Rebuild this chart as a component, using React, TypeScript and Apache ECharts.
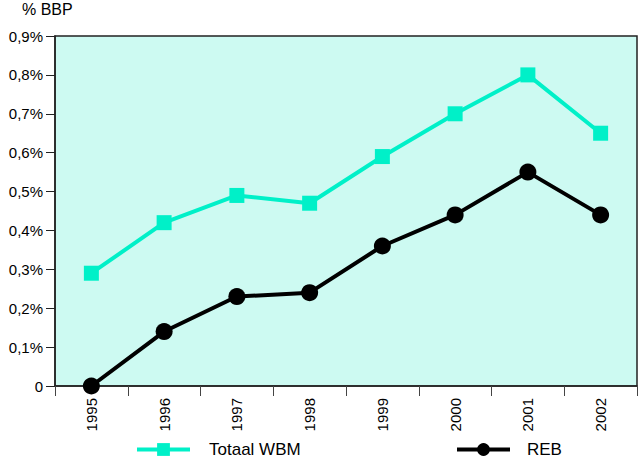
import React, { useEffect, useRef } from "react";
import * as echarts from "echarts";

const years = ["1995", "1996", "1997", "1998", "1999", "2000", "2001", "2002"];
const totaalWBM = [0.29, 0.42, 0.49, 0.47, 0.59, 0.7, 0.8, 0.65];
const reb = [0.0, 0.14, 0.23, 0.24, 0.36, 0.44, 0.55, 0.44];
const yTicks = ["0", "0,1%", "0,2%", "0,3%", "0,4%", "0,5%", "0,6%", "0,7%", "0,8%", "0,9%"];

const TEAL = "#00f0c8";
const FONT = "'Liberation Sans', Arial, sans-serif";

export default function App() {
  const ref = useRef<HTMLDivElement>(null);
  useEffect(() => {
    if (!ref.current) return;
    const chart = echarts.init(ref.current, undefined, { renderer: "svg" });
    chart.setOption({
      animation: false,
      textStyle: { fontFamily: FONT },
      grid: {
        left: 55,
        right: 2,
        top: 36,
        bottom: 73,
        show: true,
        backgroundColor: "#cdfaf2",
        borderColor: "#222",
        borderWidth: 1.5,
      },
      graphic: [
        {
          type: "text",
          left: 22,
          top: 1,
          style: { text: "% BBP", font: `16px ${FONT}`, fill: "#000" },
        },
      ],
      legend: [
        {
          data: ["Totaal WBM"],
          left: 135,
          top: 441,
          padding: 0,
          itemWidth: 53,
          itemHeight: 16,
          itemGap: 0,
          lineStyle: { width: 4 },
          textStyle: { fontSize: 17, color: "#000", padding: [0, 0, 0, 14] },
        },
        {
          data: ["REB"],
          left: 455,
          top: 441,
          padding: 0,
          itemWidth: 53,
          itemHeight: 16,
          itemGap: 0,
          lineStyle: { width: 4 },
          textStyle: { fontSize: 17, color: "#000", padding: [0, 0, 0, 12] },
        },
      ],
      xAxis: {
        type: "category",
        data: years,
        boundaryGap: true,
        axisLine: { lineStyle: { color: "#222", width: 1.5 } },
        axisTick: { show: true, length: 10, alignWithLabel: false, lineStyle: { color: "#444" } },
        axisLabel: { rotate: 90, fontSize: 15, color: "#000", margin: 12 },
      },
      yAxis: {
        type: "value",
        min: 0,
        max: 0.9,
        interval: 0.1,
        splitLine: { show: false },
        axisLine: { show: true, lineStyle: { color: "#222", width: 1.5 } },
        axisTick: { show: true, length: 9, lineStyle: { color: "#222" } },
        axisLabel: {
          fontSize: 15,
          color: "#000",
          margin: 12,
          formatter: (v: number) => yTicks[Math.round(v * 10)],
        },
      },
      series: [
        {
          name: "Totaal WBM",
          type: "line",
          data: totaalWBM,
          color: TEAL,
          symbol: "rect",
          symbolSize: 15,
          lineStyle: { width: 4, color: TEAL },
          itemStyle: { color: TEAL },
        },
        {
          name: "REB",
          type: "line",
          data: reb,
          color: "#000",
          symbol: "circle",
          symbolSize: 17,
          lineStyle: { width: 4, color: "#000" },
          itemStyle: { color: "#000" },
        },
      ],
    });
    return () => chart.dispose();
  }, []);
  return <div ref={ref} style={{ width: 639, height: 459, position: "absolute", left: 0, top: 0 }} />;
}
